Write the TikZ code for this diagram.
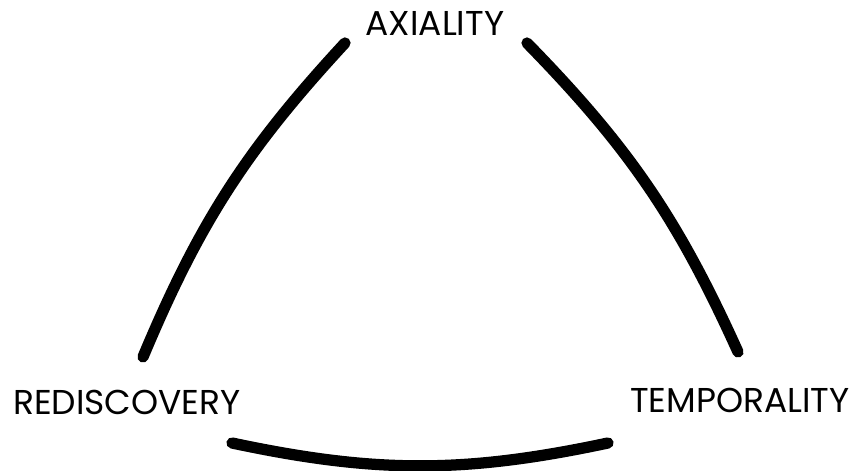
\documentclass[tikz,border=0pt]{standalone}
\usepackage{fontspec}
\setmainfont{Poppins}
\usepackage{tikz}
\usetikzlibrary{positioning}

\begin{document}
\begin{tikzpicture}[x=0.01cm, y=-0.01cm, font=\fontsize{9.8}{11}\selectfont,
	arc/.style={line width=3.2pt, line cap=round}]
	\useasboundingbox (0,0) rectangle (855,471);

	% Sommets
	\node (axiality) at (435,24) {AXIALITY};
	\node (rediscovery) at (127,402) {REDISCOVERY};
	\node (temporality) at (740,400) {TEMPORALITY};

	% Extrémités des arcs
	\coordinate (gauche bas) at (143,357);
	\coordinate (gauche haut) at (345,43);
	\coordinate (droite haut) at (527,43);
	\coordinate (droite bas) at (738,352);
	\coordinate (bas gauche) at (232,443);
	\coordinate (bas droite) at (608,443);

	% Arcs
	\draw[arc] (gauche bas) to[bend left=10] (gauche haut);
	\draw[arc] (droite haut) to[bend left=10] (droite bas);
	\draw[arc] (bas gauche) to[bend right=12] (bas droite);
\end{tikzpicture}
\end{document}
